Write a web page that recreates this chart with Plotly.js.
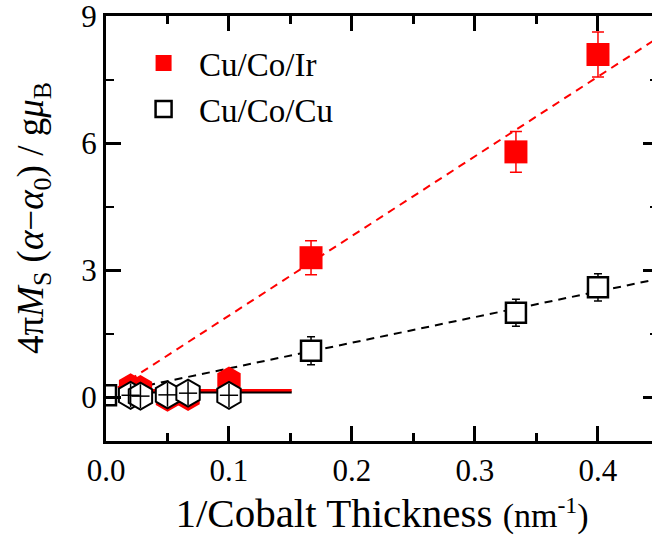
<!DOCTYPE html>
<html>
<head>
<meta charset="utf-8">
<script src="https://cdn.plot.ly/plotly-3.0.1.min.js"></script>
<style>
html,body{margin:0;padding:0;background:#fff;overflow:hidden;}
#chart{width:660px;height:546px;}
</style>
</head>
<body>
<div id="chart"></div>
<script>
// ---- data ----
const seriesNames = ["Cu/Co/Ir", "Cu/Co/Cu"];

// main thickness points (1/t in nm^-1)
const irX   = [0.1667, 0.3333, 0.4];
const irY   = [3.3, 5.8, 8.1];
const irErr = [0.4, 0.48, 0.53];

const cuX   = [0, 0.1667, 0.3333, 0.4];
const cuY   = [0.05, 1.1, 2.0, 2.6];
const cuErr = [0, 0.33, 0.32, 0.32];

// thick-film points near the origin (hexagons)
const lowX     = [0.02, 0.028, 0.05, 0.0667, 0.1];
const irLowY   = [0.25, 0.21, -0.02, 0.0, 0.41];
const cuLowY   = [0.05, 0.03, 0.06, 0.1, 0.05];
const cuLowErr = [0.28, 0.28, 0.28, 0.28, 0.28];

// solid reference lines in the thick-film region
const lowFitX  = [0.02, 0.151];
const irLowFit = [0.17, 0.17];
const cuLowFit = [0.12, 0.12];

// dashed linear fits
const fitX   = [0, 0.449];
const irFitY = [0.05, 8.5];
const cuFitY = [0.08, 2.8];

// axis ticks
const xTicks = [0, 0.1, 0.2, 0.3, 0.4];
const xTickText = ["0.0", "0.1", "0.2", "0.3", "0.4"];
const yTicks = [0, 3, 6, 9];

const xTitle = '1/Cobalt Thickness <span style="font-size:34px">(nm<sup>-1</sup>)</span>';
const yTitle = '4π<i>M</i><sub>S</sub> (<i>α</i>−<i>α</i><sub>0</sub>) / g<i>μ</i><sub>B</sub>';

const RED = "#ff0000";
const BLK = "#000000";
const FONT = "Liberation Serif, Times New Roman, serif";

const traces = [
  {x: fitX, y: irFitY, mode: "lines", line: {color: RED, width: 2, dash: "8px,6px"}, showlegend: false, hoverinfo: "skip"},
  {x: fitX, y: cuFitY, mode: "lines", line: {color: BLK, width: 2, dash: "8px,6px"}, showlegend: false, hoverinfo: "skip"},
  {x: lowX, y: irLowY, mode: "markers", marker: {symbol: "hexagon", size: 27, color: RED, line: {width: 0}},
   showlegend: false},
  {x: lowFitX, y: cuLowFit, mode: "lines", line: {color: BLK, width: 2.5}, showlegend: false},
  {x: lowFitX, y: irLowFit, mode: "lines", line: {color: RED, width: 2.5}, showlegend: false},
  {x: lowX, y: cuLowY, mode: "markers",
   marker: {symbol: "hexagon", size: 27, color: "#ffffff", line: {color: BLK, width: 2}},
   showlegend: false},
  // error crosses drawn on top of the white hexagons
  {x: lowX, y: cuLowY, mode: "markers",
   marker: {symbol: "line-ew", size: 13, color: BLK, line: {color: BLK, width: 1.5}},
   error_y: {type: "data", array: cuLowErr, color: BLK, thickness: 1.5, width: 0},
   showlegend: false},
  {x: irX, y: irY, mode: "markers", name: seriesNames[0],
   marker: {symbol: "square", size: 23, color: RED, line: {width: 0}},
   error_y: {type: "data", array: irErr, color: RED, thickness: 1.5, width: 6}},
  {x: cuX, y: cuY, mode: "markers", name: seriesNames[1],
   marker: {symbol: "square", size: 20, color: "#ffffff", line: {color: BLK, width: 2.5}},
   error_y: {type: "data", array: cuErr, color: BLK, thickness: 1.5, width: 4}}
];

const axisCommon = {
  ticks: "inside", ticklen: 15, tickwidth: 3, tickcolor: BLK,
  showline: true, linewidth: 3, linecolor: BLK, mirror: "ticks",
  showgrid: false, zeroline: false, ticklabeloverflow: "allow",
  tickfont: {family: FONT, size: 31, color: BLK}
};

const layout = {
  width: 660, height: 546,
  margin: {l: 106, r: 2, t: 16, b: 105},
  paper_bgcolor: "#ffffff", plot_bgcolor: "#ffffff",
  showlegend: true,
  legend: {x: 0.04, y: 0.955, xanchor: "left", yanchor: "top",
           bgcolor: "rgba(0,0,0,0)", itemwidth: 61, tracegroupgap: 0,
           font: {family: FONT, size: 33, color: BLK}},
  xaxis: Object.assign({}, axisCommon, {
    range: [0, 0.4488], tickvals: xTicks, ticktext: xTickText,
    minor: {dtick: 0.05, ticks: "inside", ticklen: 8, tickwidth: 2.5, tickcolor: BLK, showgrid: false},
    title: {text: xTitle, font: {family: FONT, size: 41, color: BLK}, standoff: 12}
  }),
  yaxis: Object.assign({}, axisCommon, {
    range: [-1.03, 9.01], tickvals: yTicks,
    minor: {dtick: 1.5, ticks: "inside", ticklen: 8, tickwidth: 2.5, tickcolor: BLK, showgrid: false}
  }),
  annotations: [{
    text: yTitle, textangle: -90, showarrow: false,
    xref: "paper", yref: "paper", x: -0.13, y: 0.525,
    xanchor: "center", yanchor: "middle",
    font: {family: FONT, size: 37, color: BLK}
  }]
};

Plotly.newPlot("chart", traces, layout, {displayModeBar: false, staticPlot: true}).then(function () {
  // enlarge legend symbols to the size used in the reference
  document.querySelectorAll(".legend .scatterpts path").forEach(function (p) {
    const t = p.getAttribute("transform") || "";
    p.setAttribute("transform", t + " scale(1.5)");
    const sw = parseFloat(p.style.strokeWidth || "0");
    if (sw) p.style.strokeWidth = (sw / 1.5 * 1.2) + "px";
  });
});
</script>
</body>
</html>
